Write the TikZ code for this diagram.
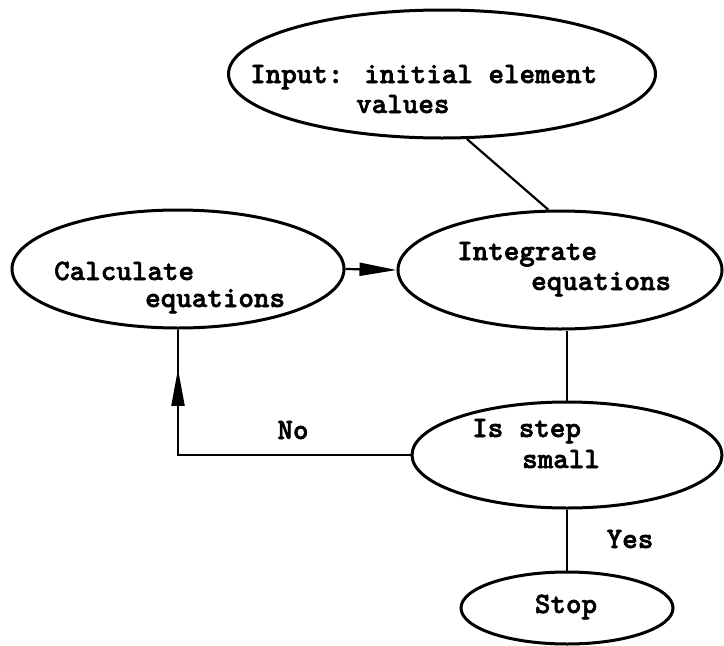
\documentclass[tikz,border=0pt]{standalone}
\usepackage{fontspec}
\newfontfamily\typefont{lmmonolt10-bold.otf}[FakeBold=2]
\usetikzlibrary{shapes.geometric,arrows.meta,decorations.markings}

\begin{document}
\begin{tikzpicture}[x=1pt,y=-1pt,
  oval/.style={draw,ellipse,line width=3pt,inner sep=0pt},
  txt/.style={inner sep=0pt,anchor=base west,font=\fontsize{29.6}{30}\typefont},
  flow/.style={line width=2.2pt},
  head/.style={-{Triangle[length=37pt,width=13pt]}}]
\useasboundingbox (0,0) rectangle (724,646);
% the boxes
\node[oval,minimum width=427pt,minimum height=128pt] (input) at (442,74) {};
\node[oval,minimum width=332pt,minimum height=118pt] (calc) at (178,269) {};
\node[oval,minimum width=324pt,minimum height=118pt] (integ) at (560,270) {};
\node[oval,minimum width=310pt,minimum height=106pt] (small) at (567,455) {};
\node[oval,minimum width=212pt,minimum height=72pt] (stop) at (567,608) {};
% their texts
\node[txt] (inputA) at (250,83) {Input: initial element};
\node[txt] (inputB) at (356,113) {values};
\node[txt] (calcA) at (54,280) {Calculate};
\node[txt] (calcB) at (145,307) {equations};
\node[txt] (integA) at (457,260) {Integrate};
\node[txt] (integB) at (531,290) {equations};
\node[txt] (smallA) at (472,437) {Is step};
\node[txt] (smallB) at (522,468) {small};
\node[txt,anchor=base] (stopA) at (566,613) {Stop};
\node[txt,anchor=base] (no) at (293,439) {No};
\node[txt,anchor=base] (yes) at (630,548) {Yes};
% connectors
\draw[flow] (input.-69) -- (integ.101);
\draw[flow,head] (calc.east) -- (integ.west);
\draw[flow] (small.north |- integ.south) -- (small.north);
\draw[flow] (small.south) -- (stop.north);
\draw[flow,postaction={decorate,decoration={markings,
  mark=at position 0.89 with {\arrow{Triangle[length=37pt,width=13pt]}}}}]
  (small.west) -| (calc.south);
\end{tikzpicture}
\end{document}
